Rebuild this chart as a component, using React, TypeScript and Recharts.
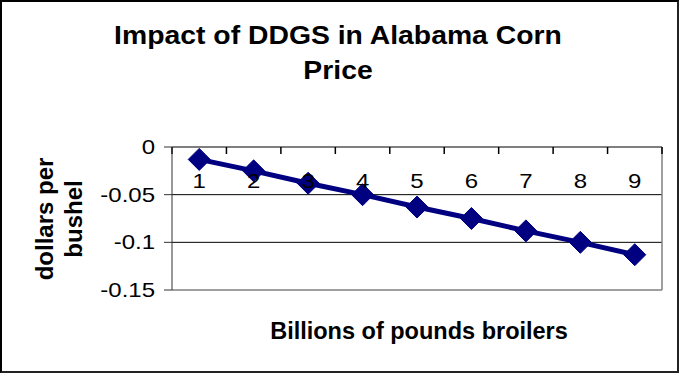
import React from 'react';
import { LineChart, Line, XAxis, YAxis, ReferenceLine } from 'recharts';

const categories = [1, 2, 3, 4, 5, 6, 7, 8, 9];
const priceImpact = [-0.013, -0.025, -0.038, -0.05, -0.063, -0.075, -0.088, -0.1, -0.113];
const yTicks = [0, -0.05, -0.1, -0.15];
const yTickLabels = ['0', '-0.05', '-0.1', '-0.15'];
const titleLines = ['Impact of DDGS in Alabama Corn', 'Price'];
const yTitleLines = ['dollars per', 'bushel'];
const xTitle = 'Billions of pounds broilers';

const data = categories.map((c, i) => ({ x: c, v: priceImpact[i] }));
const boundaries = [categories[0] - 0.5, ...categories.map((c) => c + 0.5)];
const domainX: [number, number] = [boundaries[0], boundaries[boundaries.length - 1]];

const FONT = "'Liberation Sans', Arial, Helvetica, sans-serif";
const NAVY = '#000080';
const CHART_W = 679;
const CHART_H = 373;
const PLOT_TOP = 147;
const PLOT_BOTTOM = 290;
const PLOT_LEFT = 172;
const PLOT_RIGHT = 662;
const Y_SPAN = yTicks[0] - yTicks[yTicks.length - 1];
const TICK_LEN = 7 * (Y_SPAN / (PLOT_BOTTOM - PLOT_TOP));

const CatTick = (props: any) => {
  const { x, payload } = props;
  return (
    <text
      x={x}
      y={PLOT_TOP + 41}
      textAnchor="middle"
      fontFamily={FONT}
      fontSize={20}
      fill="#000"
      stroke="none"
      transform={`matrix(1.2 0 0 1 ${-0.2 * x} 0)`}
    >
      {String(payload.value)}
    </text>
  );
};

const YTick = (props: any) => {
  const { x, y, payload } = props;
  const idx = yTicks.findIndex((t) => Math.abs(t - payload.value) < 1e-9);
  return (
    <text
      x={x}
      y={y}
      dy="0.355em"
      textAnchor="end"
      fontFamily={FONT}
      fontSize={20}
      fill="#000"
      transform={`matrix(1.2 0 0 1 ${-0.2 * x} 0)`}
    >
      {idx >= 0 ? yTickLabels[idx] : String(payload.value)}
    </text>
  );
};

const YTitle = () => {
  const cy = 219;
  const xs = [53, 82];
  return (
    <g>
      {yTitleLines.map((t, i) => (
        <text
          key={i}
          x={xs[i]}
          y={cy}
          transform={`rotate(-90 ${xs[i]} ${cy})`}
          textAnchor="middle"
          fontFamily={FONT}
          fontWeight="bold"
          fontSize={24}
          fill="#000"
        >
          {t}
        </text>
      ))}
    </g>
  );
};

const XTitle = () => (
  <text x={419} y={339} textAnchor="middle" fontFamily={FONT} fontWeight="bold" fontSize={23.5} fill="#000">
    {xTitle}
  </text>
);

const Diamond = (props: any) => {
  const { cx, cy } = props;
  if (cx == null || cy == null) return null;
  const r = 11;
  return (
    <polygon
      points={`${cx},${cy - r} ${cx + r},${cy} ${cx},${cy + r} ${cx - r},${cy}`}
      fill={NAVY}
      stroke={NAVY}
    />
  );
};

export default function App() {
  return (
    <div
      style={{
        position: 'absolute',
        left: 0,
        top: 0,
        width: CHART_W,
        height: CHART_H,
        background: '#fff',
      }}
    >
      <div
        style={{
          position: 'absolute',
          left: 0,
          top: 0,
          width: CHART_W,
          height: CHART_H,
          boxSizing: 'border-box',
          border: '2px solid #000',
          borderRightColor: '#222',
          borderBottomColor: '#222',
        }}
      />
      <div
        style={{
          position: 'absolute',
          left: 0,
          top: 18,
          width: 676,
          textAlign: 'center',
          fontFamily: FONT,
          fontWeight: 'bold',
          fontSize: 26,
          lineHeight: '35px',
          color: '#000',
          transform: 'scaleX(1.09)',
          transformOrigin: '338px 0',
        }}
      >
        {titleLines.map((t, i) => (
          <div key={i}>{t}</div>
        ))}
      </div>
      <div style={{ position: 'absolute', left: 0, top: 0 }}>
        <LineChart
          width={CHART_W}
          height={CHART_H}
          data={data}
          margin={{ top: PLOT_TOP - 1, right: CHART_W - PLOT_RIGHT, bottom: CHART_H - PLOT_BOTTOM, left: PLOT_LEFT - 60 }}
        >
          <XAxis
            xAxisId="a"
            type="number"
            dataKey="x"
            orientation="top"
            height={1}
            domain={domainX}
            ticks={categories}
            interval={0}
            allowDataOverflow
            axisLine={false}
            tickLine={false}
            tickSize={0}
            tickMargin={0}
            tick={<CatTick />}
            label={<XTitle />}
          />
          <YAxis
            type="number"
            domain={[yTicks[yTicks.length - 1], yTicks[0]]}
            ticks={yTicks}
            interval={0}
            allowDataOverflow
            width={60}
            axisLine={{ stroke: '#333', strokeWidth: 1 }}
            tickLine={{ stroke: '#333', strokeWidth: 1 }}
            tickSize={8}
            tickMargin={9}
            tick={<YTick />}
            label={<YTitle />}
          />
          <ReferenceLine xAxisId="a" y={yTicks[0]} stroke="#000" strokeWidth={1.2} />
          <ReferenceLine xAxisId="a" y={yTicks[1]} stroke="#000" strokeWidth={1} />
          <ReferenceLine xAxisId="a" y={yTicks[2]} stroke="#000" strokeWidth={1} />
          <ReferenceLine xAxisId="a" y={yTicks[3]} stroke="#808080" strokeWidth={1.5} />
          <ReferenceLine xAxisId="a" x={domainX[1]} stroke="#808080" strokeWidth={1.5} />
          {boundaries.map((b) => (
            <ReferenceLine
              key={`tick-${b}`}
              xAxisId="a"
              segment={[
                { x: b, y: yTicks[0] },
                { x: b, y: yTicks[0] - TICK_LEN },
              ]}
              stroke="#000"
              strokeWidth={1.5}
              ifOverflow="visible"
            />
          ))}
          <Line
            xAxisId="a"
            type="linear"
            dataKey="v"
            stroke={NAVY}
            strokeWidth={5}
            dot={<Diamond />}
            activeDot={false}
            isAnimationActive={false}
          />
        </LineChart>
      </div>
    </div>
  );
}
